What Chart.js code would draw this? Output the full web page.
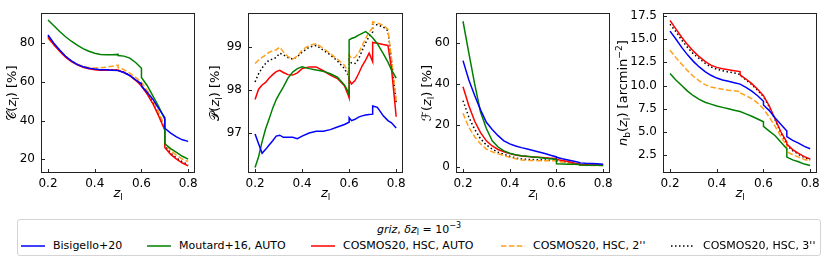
<!DOCTYPE html>
<html>
<head>
<meta charset="utf-8">
<script src="https://cdn.jsdelivr.net/npm/chart.js@4.4.0/dist/chart.umd.min.js"></script>
<style>
  body { margin: 0; background: #fff; font-family: 'DejaVu Sans', sans-serif; }
  #fig { position: relative; width: 830px; height: 262px; overflow: hidden; background: #fff; }
  .panel { position: absolute; top: 0; }
  #legend { position: absolute; left: 17px; top: 219px; width: 802px; height: 35px;
            border: 1px solid #d4d4d4; border-radius: 3px; font-size: 11px; color: #000; }
  #legend .title { position: absolute; left: 0; right: 0; top: 3px; text-align: center; line-height: 13px; }
  #legend .item { position: absolute; top: 19px; line-height: 13px; white-space: nowrap; }
  #legend svg { position: absolute; top: 24px; }
  sub, sup { font-size: 8px; line-height: 0; }
  sub { vertical-align: -2px; }
  sup { vertical-align: 5px; }
</style>
</head>
<body>
<div id="fig">
  <div class="panel" id="p1"><canvas id="c1"></canvas></div>
  <div class="panel" id="p2"><canvas id="c2"></canvas></div>
  <div class="panel" id="p3"><canvas id="c3"></canvas></div>
  <div class="panel" id="p4"><canvas id="c4"></canvas></div>
  <div id="legend"></div>
</div>
<script>
// redshift grid shared by completeness, fraction and number density (jumps repeated)
const zGrid = [0.2,0.225,0.25,0.275,0.3,0.325,0.35,0.375,0.4,0.425,0.45,0.475,0.5,0.5,0.525,0.55,0.575,0.6,0.6,0.625,0.65,0.675,0.7,0.7,0.725,0.75,0.775,0.8];
// finer grid for the purity panel
const zPur = [0.2,0.215,0.23,0.245,0.26,0.275,0.29,0.305,0.32,0.34,0.36,0.38,0.4,0.43,0.46,0.49,0.52,0.55,0.58,0.595,0.6,0.6,0.61,0.625,0.64,0.655,0.67,0.685,0.7,0.7,0.72,0.745,0.765,0.78,0.8];

const seriesLabels = ['Bisigello+20', 'Moutard+16, AUTO', 'COSMOS20, HSC, AUTO', "COSMOS20, HSC, 2''", "COSMOS20, HSC, 3''"];
const seriesColors = ['#0000ff', '#008000', '#ff0000', '#ffa020', '#000000'];
const seriesDash = [[], [], [], [5.5, 2.4], [1.5, 2.5]];

// completeness C(z) [%]
const compBis = [84.2,80,76.5,73.2,70.8,69,67.8,67,66.6,66.3,66.2,66,65.8,65.8,64.8,63.3,61,59,57.8,54.5,50.8,46,41.5,36,33.5,31.5,30,29.2];
const compMou = [92,89,86,83.3,81,79,77.2,75.8,74.8,74.2,74,74,74.2,73.6,73.3,72.3,70,67,62.3,58,52.5,47,40.5,28,25.5,23.5,21.5,20];
const compAuto = [83,79.2,75.8,72.8,70.5,68.8,67.5,66.8,66.3,66,66,66.1,66.1,65.9,64.8,63.2,60.8,57.8,57.8,53.5,48.5,42,35,26,22.5,20,18,16.5];
const comp2 = [82.5,79,75.8,73,70.8,69.2,68,67.4,67.2,67.3,67.6,68.1,68.6,67.3,66.3,64.5,62.3,59.8,59.8,55.5,50.5,44,37,28.5,24.5,22,20,18.8];
const comp3 = [83.6,79.6,76.1,73.1,70.8,69,67.7,67,66.5,66.2,66.2,66.3,66.3,66.1,65,63.4,61,58.2,58.2,54,49,42.5,35.5,27,23.2,20.6,18.6,17.2];

// purity P(z) [%]
const purBis = [96.98,96.75,96.53,96.62,96.72,96.82,96.93,96.95,96.9,96.9,96.9,96.87,96.93,97.0,97.04,97.04,97.08,97.14,97.2,97.24,97.25,97.36,97.29,97.32,97.37,97.4,97.42,97.43,97.44,97.63,97.6,97.4,97.29,97.24,97.12];
const purMou = [96.2,96.45,96.8,97.1,97.33,97.58,97.78,97.93,98.07,98.28,98.42,98.5,98.54,98.5,98.47,98.44,98.38,98.3,98.12,97.97,97.9,99.17,99.2,99.23,99.28,99.32,99.36,99.3,99.22,99.22,99.08,98.85,98.65,98.47,98.28];
const purAuto = [97.78,98.02,98.12,98.18,98.28,98.36,98.43,98.46,98.41,98.36,98.35,98.4,98.5,98.54,98.54,98.45,98.35,98.27,98.1,97.9,97.82,98.24,98.14,98.22,98.38,98.56,98.7,98.86,98.66,99.11,99.09,99.06,99.04,98.5,97.38];
const pur2 = [98.62,98.7,98.76,98.82,98.88,98.91,98.94,99.0,98.89,98.78,98.72,98.79,98.93,99.04,99.08,98.97,98.85,98.72,98.58,98.43,98.25,98.82,98.74,98.76,98.86,99.03,99.2,99.35,99.45,99.59,99.56,99.51,99.42,98.73,97.75];
const pur3 = [98.19,98.38,98.52,98.62,98.7,98.72,98.76,98.86,98.82,98.76,98.72,98.78,98.88,99.0,99.04,98.93,98.82,98.68,98.5,98.35,98.25,98.7,98.63,98.62,98.72,98.92,99.1,99.25,99.35,99.53,99.52,99.47,99.38,98.7,97.7];

// fraction F(z) [%]
const fracBis = [51.4,42,34.5,27.5,21.5,18,15,12.5,11,10,9.2,8.5,7.8,7.8,7.1,6.4,5.5,4.7,4.5,3.8,3.2,2.6,2.0,1.8,1.6,1.5,1.4,1.2];
const fracMou = [70.5,55,40,26.5,18.5,12.5,9.5,7.6,6.5,5.8,5.3,5,4.7,4.7,4.4,4.1,3.8,3.5,1.4,1.3,1.2,1.1,1.0,0.8,0.7,0.6,0.6,0.5];
const fracAuto = [38.7,29.5,22,16.5,12.5,10,8.3,7.2,6.3,5.6,5.2,4.9,4.7,4.7,4.5,4.3,4.1,3.9,3.5,3.0,2.5,1.8,1.2,1.0,0.9,0.8,0.8,0.8];
const frac2 = [25.8,19,14.5,11,8.5,7.2,6.2,5.3,4.5,3.8,3.2,3.0,3.0,3.0,2.9,2.9,2.8,2.8,2.6,2.2,1.8,1.3,0.9,0.7,0.6,0.5,0.5,0.5];
const frac3 = [32,24,18,13.5,10.5,8.5,7,6,5,4.2,3.7,3.5,3.4,3.4,3.3,3.2,3.1,3.0,2.8,2.4,2.0,1.5,1.0,0.8,0.7,0.6,0.6,0.6];

// number density n_b(z) [arcmin^-2]
const nbBis = [15.85,15.0,14.1,13.3,12.6,12.0,11.5,11.1,10.8,10.6,10.45,10.3,10.15,10.15,9.8,9.4,8.9,8.3,7.9,7.3,6.5,5.8,5.1,4.5,4.1,3.8,3.45,3.2];
const nbMou = [11.3,10.6,10.0,9.4,8.9,8.5,8.2,8.0,7.8,7.65,7.5,7.35,7.2,7.2,6.95,6.7,6.4,6.1,5.6,5.1,4.6,3.9,3.2,2.3,2.0,1.8,1.55,1.4];
const nbAuto = [17.0,16.1,15.2,14.4,13.7,13.1,12.6,12.2,11.95,11.8,11.7,11.6,11.5,11.15,10.7,10.2,9.6,8.9,8.9,7.8,6.4,5.0,3.9,3.7,3.1,2.7,2.35,2.1];
const nb2 = [13.8,13.0,12.3,11.6,11.0,10.5,10.1,9.85,9.7,9.6,9.5,9.45,9.35,9.2,8.9,8.6,8.1,7.5,7.5,6.6,5.6,4.5,3.5,2.9,2.55,2.3,2.05,1.9];
const nb3 = [16.6,15.8,14.9,14.1,13.4,12.9,12.4,12.0,11.75,11.6,11.45,11.35,11.2,11.1,10.6,10.1,9.5,8.8,8.8,7.7,6.3,4.9,3.8,3.6,3.0,2.6,2.25,2.0];

// ticks
const xTicks = [0.2, 0.4, 0.6, 0.8];
const compTicks = [20, 40, 60, 80];
const purTicks = [97, 98, 99];
const fracTicks = [0, 20, 40, 60];
const nbTicks = [2.5, 5, 7.5, 10, 12.5, 15, 17.5];

const FONT = 'DejaVu Sans';

function drawRich(ctx, parts, cx, cy, vertical) {
  const base = 13;
  const fontFor = p => (p.it ? 'italic ' : '') + ((p.sub || p.sup) ? base * 0.7 : base) + 'px "' + FONT + '"';
  let total = 0;
  parts.forEach(p => { ctx.font = fontFor(p); p.w = ctx.measureText(p.t).width; total += p.w; });
  ctx.save();
  ctx.translate(cx, cy);
  if (vertical) ctx.rotate(-Math.PI / 2);
  ctx.textBaseline = 'alphabetic';
  ctx.textAlign = 'left';
  ctx.fillStyle = '#000';
  let x = -total / 2;
  parts.forEach(p => {
    ctx.font = fontFor(p);
    ctx.fillText(p.t, x, 4 + (p.sub ? 3 : p.sup ? -5.5 : 0));
    x += p.w;
  });
  ctx.restore();
}

const xLabel = [{t: 'z', it: 1}, {t: 'l', sub: 1}];

function makePanel(n, box, zs, series, yMin, yMax, yTicks, yFmt, yLabel, labelX) {
  const holder = document.getElementById('p' + n);
  const canvas = document.getElementById('c' + n);
  const w = box.right - box.L0 + 6;
  holder.style.left = box.L0 + 'px';
  canvas.width = w; canvas.height = 205;
  canvas.style.width = w + 'px'; canvas.style.height = '205px';

  const frame = {
    id: 'frame' + n,
    afterDraw(chart) {
      const {ctx, chartArea: a, scales} = chart;
      ctx.save();
      ctx.strokeStyle = '#222';
      ctx.lineWidth = 1;
      const l = Math.round(a.left) + 0.5, t = Math.round(a.top) + 0.5;
      const r = Math.round(a.right) - 0.5, b = Math.round(a.bottom) - 0.5;
      ctx.strokeRect(l, t, r - l, b - t);
      ctx.beginPath();
      scales.x.ticks.forEach(tk => {
        const px = Math.round(scales.x.getPixelForValue(tk.value)) + 0.5;
        ctx.moveTo(px, b); ctx.lineTo(px, b - 3.5);
      });
      scales.y.ticks.forEach(tk => {
        const py = Math.round(scales.y.getPixelForValue(tk.value)) + 0.5;
        ctx.moveTo(l, py); ctx.lineTo(l + 3.5, py);
      });
      ctx.stroke();
      ctx.restore();
      drawRich(ctx, xLabel, (a.left + a.right) / 2, 193, false);
      drawRich(ctx, yLabel, labelX, (a.top + a.bottom) / 2, true);
    }
  };

  const datasets = series.map((vals, i) => ({
    label: seriesLabels[i],
    data: zs.map((z, j) => ({x: z, y: vals[j]})),
    borderColor: seriesColors[i],
    borderWidth: 1.5,
    borderDash: seriesDash[i],
    pointRadius: 0,
    fill: false,
    tension: 0
  }));

  return new Chart(canvas, {
    type: 'line',
    data: {datasets},
    options: {
      responsive: false,
      animation: false,
      devicePixelRatio: 1,
      layout: {padding: {top: 8, right: 6, left: 0, bottom: 0}},
      plugins: {legend: {display: false}, tooltip: {enabled: false}},
      scales: {
        x: {
          type: 'linear', min: 0.17, max: 0.83,
          afterFit: s => { s.height = 32; },
          afterBuildTicks: s => { s.ticks = xTicks.map(v => ({value: v})); },
          grid: {display: false, drawTicks: false},
          border: {display: false},
          ticks: {padding: 4, color: '#000', font: {family: FONT, size: 12}, maxRotation: 0, autoSkip: false,
                  callback: v => v.toFixed(1)}
        },
        y: {
          type: 'linear', min: yMin, max: yMax,
          afterFit: s => { s.width = box.left - box.L0; },
          afterBuildTicks: s => { s.ticks = yTicks.map(v => ({value: v})); },
          grid: {display: false, drawTicks: false},
          border: {display: false},
          ticks: {padding: 6, color: '#000', font: {family: FONT, size: 12}, autoSkip: false, callback: yFmt}
        }
      }
    },
    plugins: [frame]
  });
}

const intFmt = v => String(v);
const oneFmt = v => v.toFixed(1);
const tail = [{t: '('}, {t: 'z', it: 1}, {t: 'l', sub: 1}, {t: ') [%]'}];

makePanel(1, {L0: 0, left: 41, right: 196}, zGrid, [compBis, compMou, compAuto, comp2, comp3],
  12.85, 95.5, compTicks, intFmt, [{t: '\u{1D49E}'}].concat(tail), 12);
makePanel(2, {L0: 205, left: 248, right: 404}, zPur, [purBis, purMou, purAuto, pur2, pur3],
  96.07, 99.79, purTicks, intFmt, [{t: '\u{1D4AB}'}].concat(tail), 10);
makePanel(3, {L0: 412, left: 456, right: 611}, zGrid, [fracBis, fracMou, fracAuto, frac2, frac3],
  -3.1, 74.4, fracTicks, intFmt, [{t: '\u2131'}].concat(tail), 15);
makePanel(4, {L0: 614, left: 663, right: 818}, zGrid, [nbBis, nbMou, nbAuto, nb2, nb3],
  0.59, 17.78, nbTicks, oneFmt,
  [{t: 'n', it: 1}, {t: 'b', sub: 1}, {t: '('}, {t: 'z', it: 1}, {t: 'l', sub: 1}, {t: ') [arcmin'}, {t: '\u22122', sup: 1}, {t: ']'}], 9);

// legend below the panels
const legend = document.getElementById('legend');
const textLeft = [53, 179, 343, 533, 703];
let html = '<div class="title"><i>griz</i>, <i>\u03B4z</i><sub>l</sub> = 10<sup>\u22123</sup></div>';
seriesLabels.forEach((lab, i) => {
  const tx = textLeft[i] - 18;
  const hx = tx - 32;
  const dash = seriesDash[i].length ? ' stroke-dasharray="' + seriesDash[i].join(' ') + '"' : '';
  html += '<svg width="24" height="4" style="left:' + hx + 'px"><line x1="0" y1="2" x2="24" y2="2" stroke="' +
          seriesColors[i] + '" stroke-width="1.5"' + dash + '/></svg>';
  html += '<div class="item" style="left:' + tx + 'px">' + lab + '</div>';
});
legend.innerHTML = html;
</script>
</body>
</html>
